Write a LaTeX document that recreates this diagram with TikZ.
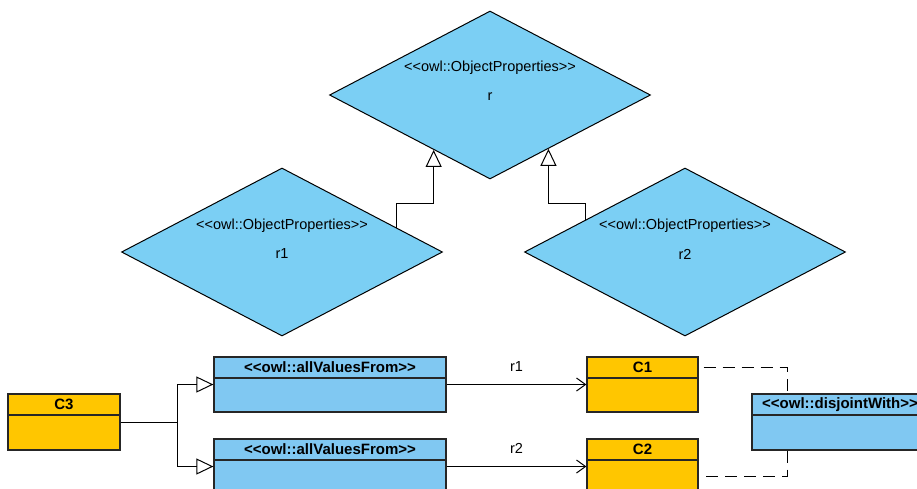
\documentclass[tikz,border=0pt]{standalone}
\usepackage{fontspec}
\setmainfont{Liberation Sans}
\usepackage{xcolor}
\usetikzlibrary{shapes.geometric, arrows.meta, positioning, calc}
\definecolor{propblue}{HTML}{7BCFF4}
\definecolor{classblue}{HTML}{80C8F2}
\definecolor{classgold}{HTML}{FFC600}
\newcommand{\stereoL}{<\kern0pt<}
\newcommand{\stereoR}{>\kern0pt>}
\tikzstyle{prop} = [diamond, draw=black, fill=propblue, minimum width=321pt, minimum height=168pt, inner sep=0pt, line width=1pt]
\tikzstyle{stereo} = [font=\fontsize{14.5}{17}\selectfont]
\tikzstyle{cls} = [rectangle, draw=black!85, line width=1.3pt, inner sep=0pt]
\tikzstyle{head} = [rectangle, draw=black!85, line width=1.3pt, inner sep=0pt, minimum height=21pt, anchor=north, font=\fontsize{15}{18}\selectfont\bfseries]
\tikzstyle{gen} = [line width=1pt, -{Triangle[open, length=17pt, width=16pt]}]
\tikzstyle{assoc} = [line width=1pt, -{Straight Barb[length=9pt, width=13pt]}]
\tikzstyle{dashlink} = [line width=1pt, dash pattern=on 12pt off 7pt]

\begin{document}
\begin{tikzpicture}[x=1pt, y=-1pt]
    \clip (0,0) rectangle (917,488);

    % object properties
    \node (r) [prop] at (490,95) {};
    \node (r1) [prop] at (282,252) {};
    \node (r2) [prop] at (685,252) {};
    \node (rst) [stereo] at (490,68) {\stereoL owl::ObjectProperties\stereoR};
    \node (rname) [stereo] at (490,97) {r};
    \node (r1st) [stereo] at (282,226) {\stereoL owl::ObjectProperties\stereoR};
    \node (r1name) [stereo] at (282,254) {r1};
    \node (r2st) [stereo] at (685,226) {\stereoL owl::ObjectProperties\stereoR};
    \node (r2name) [stereo] at (685,254) {r2};

    \coordinate (r1up) at ($(r1.north)!0.71!(r1.east)$);
    \coordinate (r2up) at ($(r2.north)!0.62!(r2.west)$);
    \coordinate (rleft) at ($(r.south)!0.35!(r.west)$);
    \coordinate (rright) at ($(r.south)!0.363!(r.east)$);
    \draw [gen] (r1up) -- (r1up |- 0,203) -| (rleft);
    \draw [gen] (r2up) -- (r2up |- 0,203) -| (rright);

    % classes
    \node (c3) [cls, fill=classgold, minimum width=112pt, minimum height=56pt] at (64,422) {};
    \node (c3h) [head, fill=classgold, minimum width=112pt] at (c3.north) {C3};
    \node (avf1) [cls, fill=classblue, minimum width=232pt, minimum height=55pt] at (330,384.5) {};
    \node (avf1h) [head, fill=classblue, minimum width=232pt] at (avf1.north) {\stereoL owl::allValuesFrom\stereoR};
    \node (avf2) [cls, fill=classblue, minimum width=232pt, minimum height=55pt] at (330,466.5) {};
    \node (avf2h) [head, fill=classblue, minimum width=232pt] at (avf2.north) {\stereoL owl::allValuesFrom\stereoR};
    \node (c1) [cls, fill=classgold, minimum width=111pt, minimum height=55pt] at (642.5,384.5) {};
    \node (c1h) [head, fill=classgold, minimum width=111pt] at (c1.north) {C1};
    \node (c2) [cls, fill=classgold, minimum width=111pt, minimum height=55pt] at (642.5,466.5) {};
    \node (c2h) [head, fill=classgold, minimum width=111pt] at (c2.north) {C2};
    \node (disj) [cls, fill=classblue, minimum width=176pt, minimum height=56pt] at (840,422) {};
    \node (disjh) [head, fill=classblue, minimum width=176pt] at (disj.north) {\stereoL owl::disjointWith\stereoR};

    \coordinate (fork) at (177,422);
    \draw [line width=1pt] (c3.east) -- (fork);
    \draw [gen] (fork) |- (avf1.west);
    \draw [gen] (fork) |- (avf2.west);
    \draw [assoc] (avf1.east) -- node [stereo, above=9pt] {r1} (c1.west);
    \draw [assoc] (avf2.east) -- node [stereo, above=9pt] {r2} (c2.west);
    \draw [dashlink] ([xshift=5pt]c1h.east) -| ([xshift=-53pt]disj.north);
    \draw [dashlink] ([xshift=-53pt]disj.south) |- ([xshift=5pt, yshift=-10pt]c2.east);
\end{tikzpicture}
\end{document}
